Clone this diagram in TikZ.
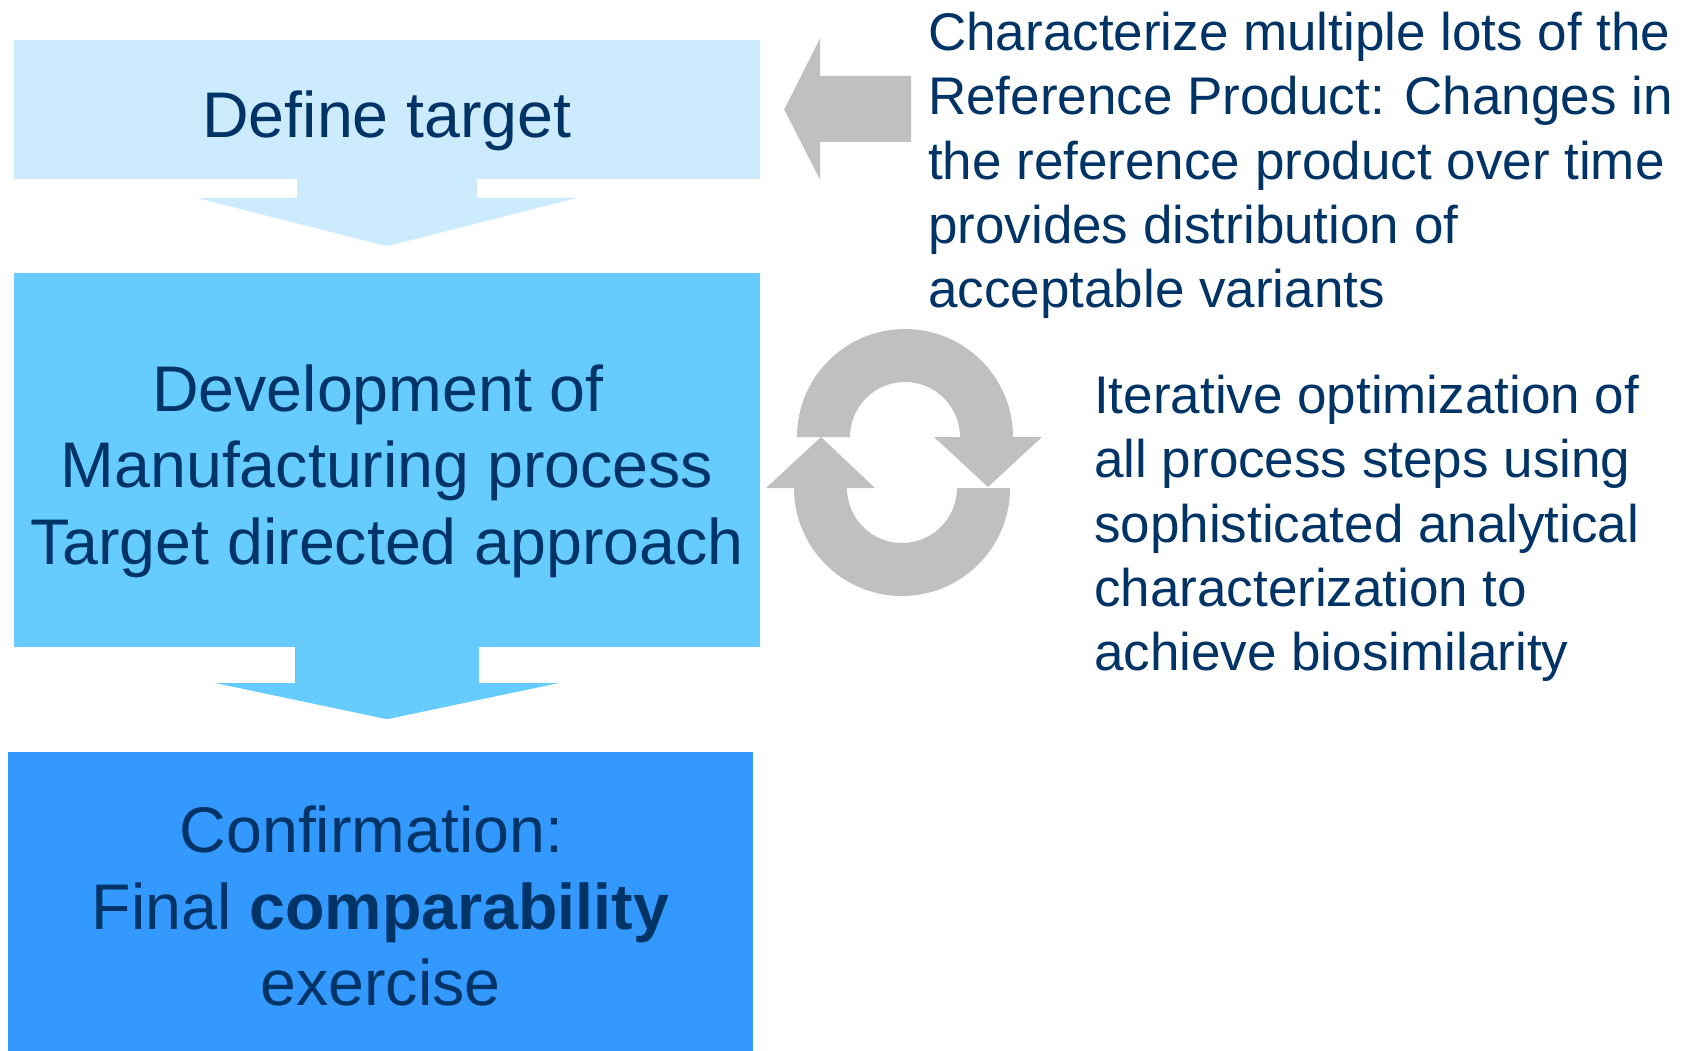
\documentclass[tikz,border=0pt]{standalone}
\usepackage{fontspec}
\setmainfont{Liberation Sans}
\usepackage{tikz}
\definecolor{StepColor1}{RGB}{204,235,255}
\definecolor{StepColor2}{RGB}{102,204,255}
\definecolor{StepColor3}{RGB}{51,153,255}
\definecolor{NoteColor}{RGB}{0,51,102}
\definecolor{LoopColor}{RGB}{192,192,192}

\begin{document}
\begin{tikzpicture}[x=1pt,y=-1pt,stp/.style n args={3}{fill=#1,minimum width=#2,minimum height=#3,inner sep=0pt},stptext/.style={inner sep=0pt,align=center,text=NoteColor,text depth=0pt,yshift=-4.5pt,font=\fontsize{64.5}{76.6}\selectfont},note/.style={anchor=north west,inner sep=0pt,align=left,text=NoteColor,font=\fontsize{53}{64.2}\selectfont}]
\useasboundingbox (0,0) rectangle (1692,1051);
\node[stp={StepColor1}{746pt}{139pt}](target) at(387,109.5) {};
\node[stp={StepColor2}{746pt}{374pt}](develop) at(387,460) {};
\node[stp={StepColor3}{745pt}{299pt}](confirm) at(380.5,901.5) {};
\node[stptext](target-t) at(target) {Define target};
\node[stptext](develop-t) at(develop) {Development of\hspace*{.278em}\\Manufacturing process\\Target directed approach};
\node[stptext](confirm-t) at(confirm) {Confirmation:\hspace*{.278em}\\Final \textbf{comparability}\\exercise};
\node[note](refnote) at(928,12) {Characterize multiple lots of the\\Reference Product: Changes in\\the reference product over time\\provides distribution of\\acceptable variants};
\node[note](iternote) at(1094,375) {Iterative optimization of\\all process steps using\\sophisticated analytical\\characterization to\\achieve biosimilarity};
% block arrows between the steps
\foreach \n/\c/\s/\b/\h/\t in {target/StepColor1/90/19/189/67,develop/StepColor2/92/36/171/72} {
   \fill[\c,shift={(\n.south)}] (-\s,0) -- (-\s,\b) -- (-\h,\b) -- (0,\t) -- (\h,\b) -- (\s,\b) -- (\s,0) -- cycle;
}
\fill[LoopColor,shift={(target.east)}] (24,0) -- (60,-71.5) -- (60,-33.5) -- (151,-33.5) -- (151,32.5) -- (60,32.5) -- (60,70.5) -- cycle;
% the two round arrows
\fill[LoopColor] (797,437) arc[start angle=180,end angle=360,radius=108] -- (1042,437) -- (988,487) -- (934,437) -- (960,437) arc[start angle=360,end angle=180,radius=55] -- cycle;
\fill[LoopColor] (1010,488) arc[start angle=0,end angle=180,radius=108] -- (766,488) -- (821,437) -- (875,488) -- (847,488) arc[start angle=180,end angle=0,radius=55] -- cycle;
\end{tikzpicture}
\end{document}
